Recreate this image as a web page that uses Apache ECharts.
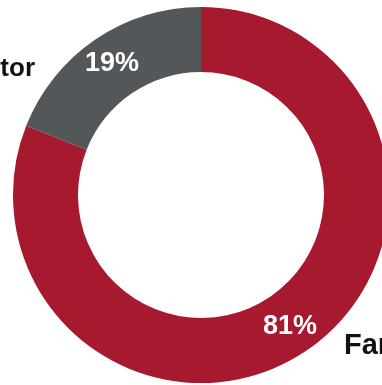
<!DOCTYPE html>
<html>
<head>
<meta charset="utf-8">
<script src="https://cdn.jsdelivr.net/npm/echarts@6/dist/echarts.min.js"></script>
<style>
  html, body { margin: 0; padding: 0; background: #fff; }
  #chart { width: 382px; height: 385px; }
</style>
</head>
<body>
<div id="chart"></div>
<script>
// Share of firms by ownership type
const categories = ['Family', 'Investor'];
const shares = [81, 19];
const colors = ['#a6192e', '#54575a'];

// Where each category name sits outside the ring, and its size
const nameAnchors = [
  { x: 344, y: 346, align: 'left', size: 29 },
  { x: 35, y: 69, align: 'right', size: 26 }
];

const data = categories.map((name, i) => ({
  name,
  value: shares[i],
  itemStyle: { color: colors[i] }
}));

const chart = echarts.init(document.getElementById('chart'), null, { renderer: 'canvas' });

chart.setOption({
  animation: false,
  backgroundColor: '#ffffff',
  series: [
    {
      // ring with percentage labels inside each slice
      type: 'pie',
      center: [201, 195],
      radius: [123, 188],
      startAngle: 90,
      clockwise: true,
      silent: true,
      data: data,
      label: {
        show: true,
        position: 'inside',
        formatter: p => p.value + '%',
        color: '#ffffff',
        fontFamily: 'Liberation Sans, Arial, sans-serif',
        fontWeight: 'bold',
        fontSize: 27
      },
      labelLine: { show: false }
    },
    {
      // category names placed beside the ring
      type: 'pie',
      center: [201, 195],
      radius: [123, 188],
      startAngle: 90,
      clockwise: true,
      silent: true,
      data: data.map((d, i) => ({
        name: d.name,
        value: d.value,
        itemStyle: { color: 'rgba(0,0,0,0)' },
        label: { fontSize: nameAnchors[i].size }
      })),
      label: {
        show: true,
        position: 'outside',
        formatter: p => p.name,
        color: '#111111',
        fontFamily: 'Liberation Sans, Arial, sans-serif',
        fontWeight: 'bold',
        overflow: 'none',
        width: 400
      },
      labelLine: { show: false },
      labelLayout: params => {
        const a = nameAnchors[params.dataIndex];
        return { x: a.x, y: a.y, align: a.align, verticalAlign: 'middle' };
      }
    }
  ]
});
</script>
</body>
</html>
